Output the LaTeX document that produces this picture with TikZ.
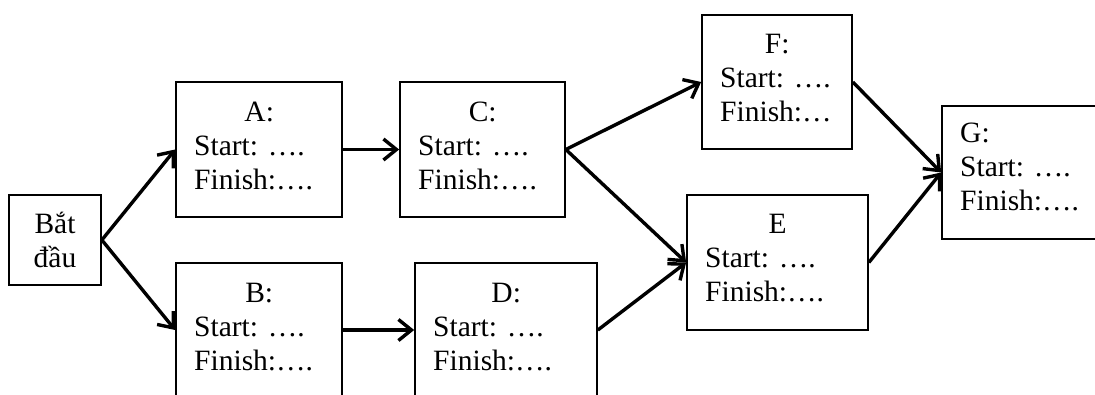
\documentclass[tikz,border=0pt]{standalone}
\usepackage{fontspec}
\setmainfont{Liberation Serif}
\usetikzlibrary{arrows.meta}
% three-line task card: heading, start and finish lines
\newcommand{\taskcard}[2]{\begin{tabular}[t]{@{}l@{}}#1\\Start: ….\\#2\end{tabular}}
\begin{document}
\begin{tikzpicture}[x=1pt,y=-1pt,
  box/.style={draw, line width=1.7pt, inner sep=0pt},
  txt/.style={inner sep=0pt, anchor=base west, font=\fontsize{29.5}{34}\selectfont},
  link/.style={line width=3.4pt, -{Straight Barb[length=13pt,width=21pt]}}]
\useasboundingbox (0,0) rectangle (1095,394);
\clip (0,0) rectangle (1095,394);
\fill[white] (0,0) rectangle (1095,394);

% task boxes
\node[box, minimum width=92pt,  minimum height=90pt]  (S) at (55,240) {};
\node[box, minimum width=166pt, minimum height=135pt] (A) at (259,149.5) {};
\node[box, minimum width=166pt, minimum height=134pt] (B) at (259,330) {};
\node[box, minimum width=165pt, minimum height=135pt] (C) at (482.5,149.5) {};
\node[box, minimum width=182pt, minimum height=134pt] (D) at (506,330) {};
\node[box, minimum width=150pt, minimum height=134pt] (F) at (777,82) {};
\node[box, minimum width=181pt, minimum height=135pt] (E) at (777.5,262.5) {};
\node[box, minimum width=163pt, minimum height=133pt] (G) at (1023.5,172.5) {};

% box texts
\node[txt, anchor=base] (St) at (55,233) {\begin{tabular}[t]{@{}c@{}}Bắt\\đầu\end{tabular}};
\node[txt] (At) at (194,121) {\taskcard{\makebox[130pt]{A:}}{Finish:….}};
\node[txt] (Bt) at (194,302) {\taskcard{\makebox[130pt]{B:}}{Finish:….}};
\node[txt] (Ct) at (418,121) {\taskcard{\makebox[129pt]{C:}}{Finish:….}};
\node[txt] (Dt) at (433,302) {\taskcard{\makebox[146pt]{D:}}{Finish:….}};
\node[txt] (Ft) at (720,53)  {\taskcard{\makebox[114pt]{F:}}{Finish:…}};
\node[txt] (Et) at (705,233) {\taskcard{\makebox[145pt]{E}}{Finish:….}};
\node[txt] (Gt) at (960,142) {\taskcard{G:}{Finish:….}};

% precedence arrows
\draw[link] (S.east) -- (A.west);
\draw[link] (S.east) -- (B.west);
\draw[link] (A.east) -- (C.west);
\draw[link] (B.east) -- (D.west);
\draw[link] (C.east) -- (F.west);
\draw[link] (C.east) -- (E.west);
\draw[link] (D.east) -- (E.west);
\draw[link] (F.east) -- (G.west);
\draw[link] (E.east) -- (G.west);
\end{tikzpicture}
\end{document}
